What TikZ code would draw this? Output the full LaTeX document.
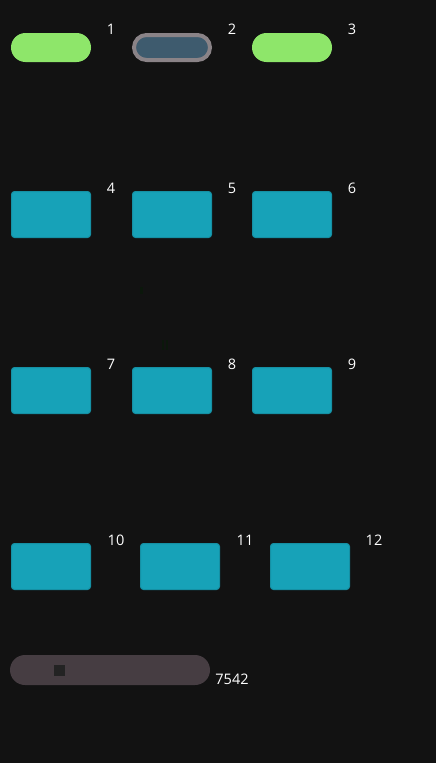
\documentclass[tikz,border=0pt]{standalone}
\usepackage{fontspec}
\setmainfont{Open Sans}
\usetikzlibrary{positioning}
\definecolor{bgdark}{HTML}{121212}
\definecolor{pillgreen}{HTML}{8EE66A}
\definecolor{pillblue}{HTML}{3E5B6E}
\definecolor{pillgray}{HTML}{8A8387}
\definecolor{cardteal}{HTML}{17A2B8}
\definecolor{cardedge}{HTML}{1590A4}
\definecolor{barfill}{HTML}{463D42}
\definecolor{knobfill}{HTML}{232323}
\definecolor{speck}{HTML}{0B170B}
\tikzset{
  pill/.style={rounded corners=14.5pt, minimum width=80pt, minimum height=29pt, inner sep=0pt},
  card/.style={rounded corners=3pt, fill=cardteal, draw=cardedge, line width=1pt,
    minimum width=79pt, minimum height=46pt, inner sep=0pt},
  tag/.style={text=white, font=\fontsize{14.5}{16}\selectfont, inner sep=0pt}
}
\begin{document}
\begin{tikzpicture}[x=1pt,y=-1pt]
    % Fondo
    \fill[bgdark] (0,0) rectangle (436,763);
    \useasboundingbox (0,0) rectangle (436,763);

    % Fila de pastillas
    \node[pill, fill=pillgreen] (p1) at (51,47.5) {};
    \node[pill, fill=pillblue, draw=pillgray, line width=4pt,
      minimum width=76pt, minimum height=25pt, rounded corners=12.5pt] (p2) at (172,47.5) {};
    \node[pill, fill=pillgreen] (p3) at (292,47.5) {};
    \node[tag] (t1) at (111,29.5) {1};
    \node[tag] (t2) at (232,29.5) {2};
    \node[tag] (t3) at (352,29.5) {3};

    % Tarjetas
    \foreach \row/\yy/\a/\b/\c in {1/214.5/4/5/6, 2/390.5/7/8/9} {
      \node[card] (c\a) at (51,\yy) {};
      \node[card] (c\b) at (172,\yy) {};
      \node[card] (c\c) at (292,\yy) {};
      \node[tag] (t\a) at (111,\yy-26) {\a};
      \node[tag] (t\b) at (232,\yy-26) {\b};
      \node[tag] (t\c) at (352,\yy-26) {\c};
    }
    \node[card] (c10) at (51,566.5) {};
    \node[card] (c11) at (180,566.5) {};
    \node[card] (c12) at (310,566.5) {};
    \node[tag] (t10) at (116,540) {10};
    \node[tag] (t11) at (245,540) {11};
    \node[tag] (t12) at (374,540) {12};

    % Marcas tenues
    \fill[speck] (140,287) rectangle (143,294);
    \fill[speck] (162,340) rectangle (164,350);
    \fill[speck] (166,340) rectangle (168,350);

    % Barra inferior
    \node[fill=barfill, rounded corners=15pt, minimum width=200pt, minimum height=30pt,
      inner sep=0pt] (bar) at (110,670) {};
    \node[fill=knobfill, minimum size=11pt, inner sep=0pt] (knob) at (59.5,670.5) {};
    \node[tag] (count) at (232,679.5) {7542};
\end{tikzpicture}
\end{document}
